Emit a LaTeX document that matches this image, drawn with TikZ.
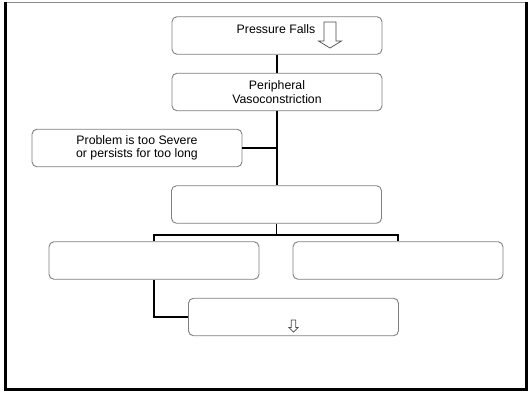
\documentclass[tikz,border=0pt]{standalone}
\usepackage{fontspec}
\setmainfont{Liberation Sans}
\begin{document}
\begin{tikzpicture}[x=1pt,y=-1pt,
  box/.style={draw=black!50,line width=0.9pt,rounded corners=5pt,rectangle,inner sep=0pt,
    minimum width=210pt,minimum height=37.5pt,align=center,font=\fontsize{12.3}{13.5}\selectfont},
  conn/.style={draw=black,line width=1.8pt},
  hollow/.style={draw=black!70,line width=0.7pt,fill=white,line join=miter},
  txt/.style={inner sep=0pt,font=\fontsize{12.3}{13.5}\selectfont,align=center}]
\useasboundingbox (0,0) rectangle (529,392);
% outer frame
\draw[draw=black!45,line width=0.8pt] (5.5,2) -- (525.5,2);
\draw[draw=black,line width=2.6pt] (5.5,1.5) -- (5.5,389.5) -- (526.5,389.5) -- (526.5,1.5);
% boxes
\node[box] (pf) at (277,35.5) {};
\node[txt] (pft) at (276,29.5) {Pressure Falls};
\node[box] (pv) at (277,92) {Peripheral\\Vasoconstriction};
\node[box] (ps) at (137,148) {Problem is too Severe\\or persists for too long};
\node[box] (b4) at (276.5,204.5) {};
\node[box] (b5) at (154,260.5) {};
\node[box] (b6) at (398,260.5) {};
\node[box] (b7) at (293.5,317) {};
% hollow arrows
\draw[hollow] (324,22) -- (336,22) -- (336,41) -- (341.5,41) -- (330,48) -- (318.5,41) -- (324,41) -- cycle;
\draw[hollow] (291.2,320) -- (295.8,320) -- (295.8,327.5) -- (298,327.5) -- (293.5,332) -- (289,327.5) -- (291.2,327.5) -- cycle;
% connectors
\coordinate (j1) at (277,148);
\coordinate (j2) at (276.5,235);
\draw[conn] (pf.south) -- (pv.south |- pf.south) ;
\draw[conn] (pv.north |- pf.south) -- (pv.north);
\draw[conn] (pv.south) -- (b4.north -| pv.south);
\draw[conn] (ps.east) -- (j1);
\draw[conn] (b4.south) -- (j2);
\draw[conn] (b5.north) -- (b5.north |- j2) -- (b6.north |- j2) -- (b6.north);
\draw[conn] (b5.south) |- (b7.west);
\end{tikzpicture}
\end{document}
